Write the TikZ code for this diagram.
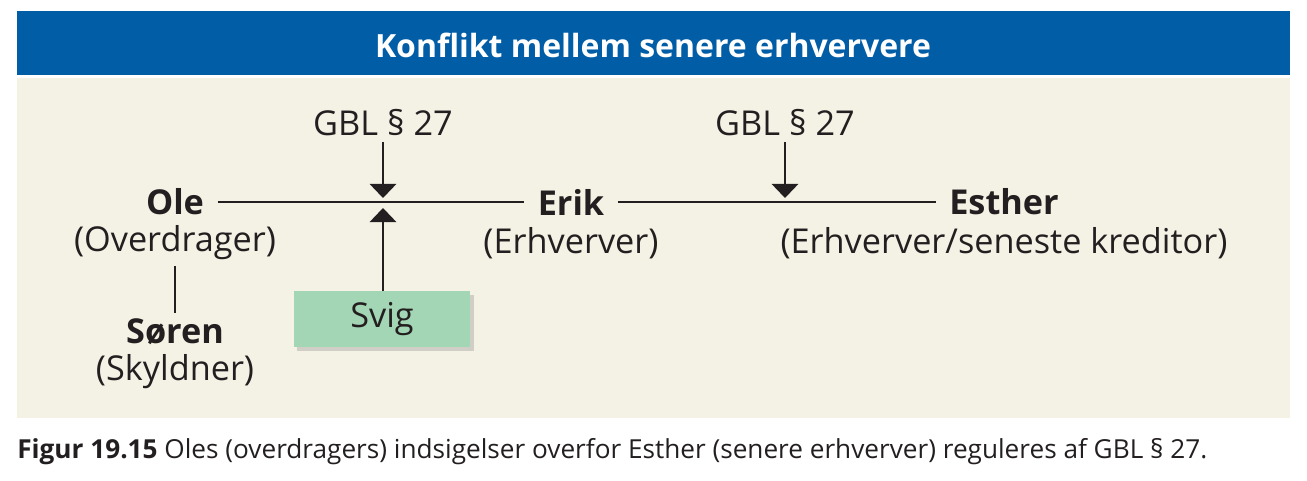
\documentclass[tikz,border=0pt]{standalone}
\usepackage{fontspec}
\setmainfont{Open Sans}
\usetikzlibrary{positioning,arrows.meta,shadows}
\definecolor{header}{HTML}{005DA6}
\definecolor{panel}{HTML}{F4F1E5}
\definecolor{svig}{HTML}{A3D6B4}
\definecolor{ink}{HTML}{231F20}

\begin{document}
\begin{tikzpicture}[x=0.02cm,y=-0.02cm,>={Triangle[width=15pt,length=8pt]},
      every node/.style={text=ink,font=\fontsize{19.5}{23}\selectfont},
      party/.style={font=\fontsize{19.5}{23}\selectfont\bfseries,inner xsep=7.5pt},
      role/.style={},
      svigbox/.style={fill=svig,minimum width=3.54cm,minimum height=1.12cm,
                      drop shadow={shadow xshift=2pt,shadow yshift=-2pt,opacity=0.3}},
      conn/.style={draw=ink,line width=1.2pt}]
    \useasboundingbox (0,0) rectangle (1307,480);
    % header and panel
    \fill[header] (17,11) rectangle (1290,75);
    \fill[panel] (17,78) rectangle (1290,418);
    \node[text=white,font=\fontsize{18.2}{22}\selectfont\bfseries] (title) at (653,45) {Konflikt mellem senere erhververe};
    % parties
    \node[party] (ole) at (175,202) {Ole};
    \node[role] (olerole) at (175,243) {(Overdrager)};
    \node[party] (soren) at (175,332) {Søren};
    \node[role] (sorenrole) at (175,372) {(Skyldner)};
    \node[party] (erik) at (571,202) {Erik};
    \node[role] (erikrole) at (571,243) {(Erhverver)};
    \node[party] (esther) at (1004,202) {Esther};
    \node[role] (estherrole) at (1004,243) {(Erhverver/seneste kreditor)};
    % rules and fraud
    \node (gbla) at (383,123) {GBL § 27};
    \node (gblb) at (785,123) {GBL § 27};
    \node[svigbox] (svig) at (382,319) {Svig};
    \coordinate (hita) at (383,198);
    \coordinate (hitb) at (383,208);
    \coordinate (hitc) at (785,198);
    % connectors
    \draw[conn] (ole) -- (erik);
    \draw[conn] (erik) -- (esther);
    \draw[conn] (olerole) -- (soren);
    \draw[conn,->] (gbla) -- (hita);
    \draw[conn,->] (gblb) -- (hitc);
    \draw[conn,->] (svig.north -| hitb) -- (hitb);
    % caption
    \node[anchor=west,inner sep=0pt,font=\fontsize{14.9}{18}\selectfont] (caption) at (17,452)
      {\textbf{Figur 19.15} Oles (overdragers) indsigelser overfor Esther (senere erhverver) reguleres af GBL § 27.};
  \end{tikzpicture}
\end{document}
